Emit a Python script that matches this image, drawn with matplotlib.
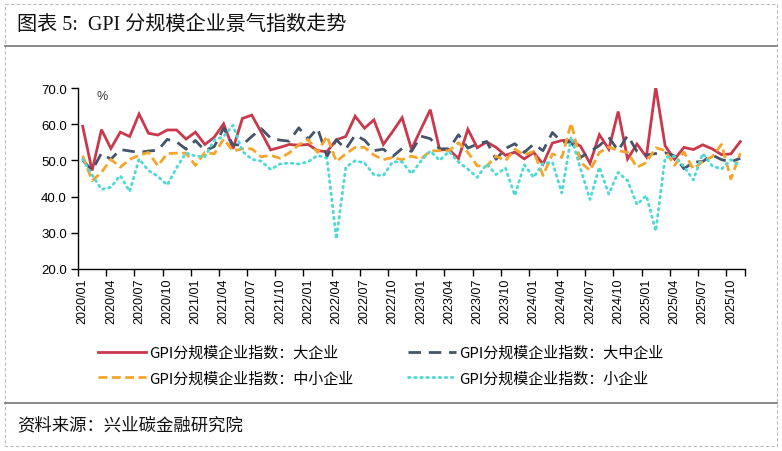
import matplotlib
matplotlib.use("Agg")
import matplotlib.pyplot as plt
from matplotlib.lines import Line2D
import numpy as np

plt.rcParams['font.family'] = ['Liberation Sans', 'Noto Sans CJK SC', 'DejaVu Sans']

# 2020/01 .. 2025/11 monthly
months = [f"{y}/{m:02d}" for y in range(2020, 2026) for m in range(1, 13)][:71]

large = [59.4, 47.2, 58.5, 53.3, 57.8, 56.6, 62.8, 57.5, 57.0, 58.4, 58.4, 55.9,
         57.8, 54.4, 56.4, 60.1, 53.2, 61.6, 62.5, 57.8, 52.9, 53.6, 54.4, 54.2,
         54.4, 52.7, 52.4, 55.7, 56.6, 62.2, 58.9, 61.2, 54.4, 58.0, 61.8, 53.1,
         58.6, 64.0, 52.9, 53.0, 50.5, 58.6, 53.5, 55.1, 53.6, 51.4, 52.3, 50.4,
         52.2, 49.0, 54.8, 55.5, 55.5, 53.9, 49.2, 57.1, 53.1, 63.5, 50.4, 54.5,
         51.0, 70.2, 54.0, 50.3, 53.6, 53.0, 54.3, 53.2, 51.6, 51.8, 55.2]

large_mid = [50.1, 47.2, 52.0, 50.3, 53.0, 52.6, 52.2, 52.6, 52.8, 55.8, 55.1, 53.1,
             55.5, 52.7, 53.8, 58.9, 54.3, 54.3, 56.6, 58.8, 56.2, 55.6, 55.3, 59.0,
             55.9, 58.9, 51.1, 55.7, 53.1, 57.0, 55.6, 52.7, 53.1, 51.1, 53.3, 52.5,
             56.7, 56.0, 53.2, 53.2, 57.1, 53.4, 54.5, 55.2, 50.3, 53.3, 54.6, 52.2,
             54.5, 52.7, 57.7, 55.1, 55.0, 50.8, 52.5, 54.1, 56.4, 52.7, 56.9, 52.5,
             51.5, 51.9, 52.1, 51.2, 47.7, 49.5, 49.7, 51.5, 50.2, 49.6, 50.6]

small_mid = [51.3, 44.4, 46.7, 50.3, 48.1, 50.3, 51.4, 52.2, 48.5, 51.9, 52.0, 52.0,
             48.6, 52.2, 51.8, 55.9, 52.6, 53.2, 53.2, 51.0, 51.4, 50.6, 52.1, 54.3,
             55.8, 52.2, 56.7, 49.7, 51.8, 53.6, 53.6, 51.5, 50.2, 50.8, 50.2, 51.2,
             50.4, 52.6, 52.7, 52.7, 54.9, 52.2, 48.5, 48.4, 51.2, 49.9, 53.1, 51.5,
             52.5, 45.8, 51.8, 50.8, 60.3, 49.5, 47.2, 52.2, 53.7, 52.7, 52.2, 48.1,
             49.4, 53.5, 52.7, 48.6, 52.3, 47.6, 49.7, 51.0, 54.4, 44.9, 52.0]

small = [50.3, 46.0, 42.0, 42.6, 45.8, 41.4, 50.4, 47.2, 45.6, 43.2, 48.0, 52.1,
         51.2, 51.0, 55.6, 56.6, 59.7, 52.5, 50.3, 49.8, 47.5, 49.0, 49.3, 49.0,
         49.6, 51.4, 50.6, 28.3, 48.1, 49.9, 49.3, 46.0, 45.8, 49.6, 49.6, 46.3,
         49.8, 52.6, 50.0, 52.5, 49.5, 47.6, 45.3, 49.0, 46.1, 47.9, 40.3, 48.8,
         45.3, 49.2, 49.5, 41.0, 56.5, 47.6, 39.2, 48.1, 40.7, 46.7, 44.4, 37.8,
         40.3, 30.5, 50.8, 51.1, 48.3, 44.6, 51.9, 48.5, 47.6, 50.2, 48.4]

labels = ["GPI分规模企业指数：大企业", "GPI分规模企业指数：大中企业",
          "GPI分规模企业指数：中小企业", "GPI分规模企业指数：小企业"]
yticks = [20.0, 30.0, 40.0, 50.0, 60.0, 70.0]

W, H = 782, 452
fig = plt.figure(figsize=(W / 100, H / 100), dpi=100)

ax = fig.add_axes([78 / W, 1 - 270 / H, (745 - 78) / W, (270 - 89) / H])
x = np.arange(len(months))

c_red = '#C9384C'
c_navy = '#44546A'
c_orange = '#F5A52A'
c_cyan = '#4ED8D6'

l1, = ax.plot(x, large, color=c_red, lw=2.0, solid_joinstyle='miter')
l2, = ax.plot(x, large_mid, color=c_navy, lw=2.0, dashes=(4.5, 2.8))
l3, = ax.plot(x, small_mid, color=c_orange, lw=2.0, dashes=(3.2, 1.6))
l4, = ax.plot(x, small, color=c_cyan, lw=2.0, dashes=(0.6, 1.6), dash_capstyle='round')

ax.set_xlim(-0.5, len(months) - 0.5)
ax.set_ylim(20, 70)
ax.set_yticks(yticks)
ax.set_yticklabels([f"{v:.1f}" for v in yticks], fontsize=9.5)

tick_idx = list(range(0, len(months), 3))
ax.set_xticks([i - 0.5 for i in tick_idx] + [len(months) - 0.5])
ax.set_xticklabels([])
ax.set_xticks(tick_idx, minor=True)
ax.set_xticklabels([months[i] for i in tick_idx], minor=True, rotation=90,
                   fontsize=9, va='top', ha='center')
ax.tick_params(axis='x', which='minor', length=0, pad=6)
ax.tick_params(axis='x', which='major', length=5, width=1, direction='out', color='black')
ax.tick_params(axis='y', length=5, width=1, direction='out', pad=3)

for s in ['top', 'right']:
    ax.spines[s].set_visible(False)
for s in ['left', 'bottom']:
    ax.spines[s].set_linewidth(1.0)
    ax.spines[s].set_color('black')

ax.text(0.027, 0.955, '%', transform=ax.transAxes, fontsize=9, color='#333333',
        ha='left', va='center')

# legend
handles = [l1, l3, l2, l4]
leg_labels = [labels[0], labels[2], labels[1], labels[3]]
fig.legend(handles, leg_labels, loc='upper left', bbox_to_anchor=(84 / W, 1 - 333 / H),
           ncol=2, frameon=False, handlelength=3.2, handletextpad=0.25,
           columnspacing=3.6, labelspacing=0.75,
           prop={'family': ['Noto Sans CJK SC'], 'size': 10.8})

# frame decorations
fig.add_artist(Line2D([5 / W, 777 / W, 777 / W, 5 / W, 5 / W],
                      [1 - 5 / H, 1 - 5 / H, 1 - 447 / H, 1 - 447 / H, 1 - 5 / H],
                      transform=fig.transFigure, color='#BBBBBB', lw=0.8, ls=(0, (3, 2))))
fig.add_artist(Line2D([5 / W, 777 / W], [1 - 47 / H, 1 - 47 / H], transform=fig.transFigure,
                      color='#808080', lw=1.3))
fig.add_artist(Line2D([5 / W, 777 / W], [1 - 404 / H, 1 - 404 / H], transform=fig.transFigure,
                      color='#808080', lw=1.3))

fig.text(17 / W, 1 - 25 / H, '图表 5:  GPI 分规模企业景气指数走势', fontsize=14.5,
         family=['Liberation Serif', 'Noto Sans CJK SC'], ha='left', va='center', color='#111111')
fig.text(17 / W, 1 - 425 / H, '资料来源：兴业碳金融研究院', fontsize=12.5,
         family=['Noto Sans CJK SC'], ha='left', va='center', color='#111111')

fig.savefig('out.png', dpi=100)
